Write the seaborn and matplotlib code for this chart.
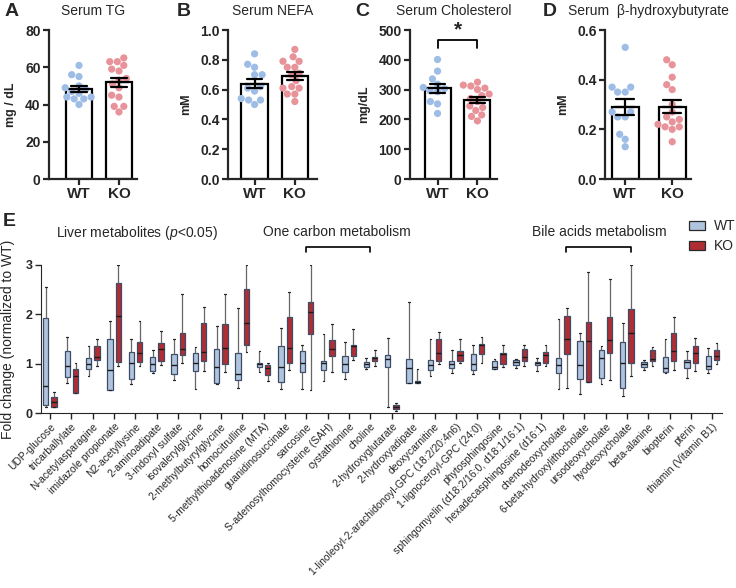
import numpy as np
import pandas as pd
import matplotlib
matplotlib.use('Agg')
import matplotlib.pyplot as plt
import matplotlib.colors as mcolors
import seaborn as sns

# ---------------- datos suero (A-D) ----------------
tg_wt = [61, 56, 55, 50, 49, 48, 47, 46, 44, 44, 43, 43, 40]
tg_ko = [65, 63, 63, 61, 59, 58, 54, 53, 51, 49, 45, 44, 39, 39, 36]
nefa_wt = [0.84, 0.77, 0.75, 0.70, 0.70, 0.62, 0.61, 0.59, 0.54, 0.53, 0.53, 0.50]
nefa_ko = [0.87, 0.82, 0.79, 0.79, 0.75, 0.75, 0.71, 0.70, 0.66, 0.62, 0.61, 0.61, 0.57, 0.57, 0.52]
chol_wt = [401, 362, 336, 318, 307, 303, 296, 293, 260, 252, 220]
chol_ko = [325, 315, 312, 305, 300, 285, 280, 270, 260, 245, 240, 230, 215, 210, 195]
bhb_wt = [0.53, 0.37, 0.37, 0.35, 0.35, 0.27, 0.27, 0.25, 0.25, 0.18, 0.16, 0.13]
bhb_ko = [0.48, 0.46, 0.41, 0.38, 0.36, 0.30, 0.27, 0.25, 0.24, 0.23, 0.22, 0.21, 0.21, 0.20, 0.15]

# ---------------- datos hígado (E) ----------------
metabolites = [
    'UDP-glucose', 'tricarballylate', 'N-acetylasparagine', 'imidazole propionate',
    'N2-acetyllysine', '2-aminoadipate', '3-indoxyl sulfate', 'isovalerylglycine',
    '2-methylbutyrylglycine', 'homocitrulline', '5-methylthioadenosine (MTA)',
    'guanidinosuccinate', 'sarcosine', 'S-adenosylhomocysteine (SAH)', 'cystathionine',
    'choline', '2-hydroxyglutarate', '2-hydroxyadipate', 'deoxycarnitine',
    '1-linoleoyl-2-arachidonoyl-GPC (18:2/20:4n6)', '1-lignoceroyl-GPC (24:0)',
    'phytosphingosine', 'sphingomyelin (d18:2/16:0, d18:1/16:1)',
    'hexadecasphingosine (d16:1)', 'chenodeoxycholate', '6-beta-hydroxylithocholate',
    'ursodeoxycholate', 'hyodeoxycholate', 'beta-alanine', 'biopterin', 'pterin',
    'thiamin (Vitamin B1)']

# min, q1, mediana, q3, max
wt_box = [
    [0.12, 0.17, 0.55, 1.93, 2.55], [0.61, 0.73, 0.96, 1.25, 1.54],
    [0.74, 0.89, 1.00, 1.11, 1.36], [0.47, 0.47, 0.87, 1.50, 1.87],
    [0.59, 0.69, 1.01, 1.23, 1.50], [0.81, 0.86, 1.00, 1.13, 1.27],
    [0.67, 0.79, 0.97, 1.19, 1.51], [0.48, 0.85, 1.01, 1.21, 1.34],
    [0.59, 0.60, 0.93, 1.30, 1.76], [0.51, 0.67, 0.79, 1.22, 2.13],
    [0.84, 0.94, 1.00, 1.02, 1.25], [0.49, 0.62, 0.93, 1.35, 1.73],
    [0.49, 0.84, 1.01, 1.25, 1.38], [0.64, 0.88, 1.01, 1.05, 1.60],
    [0.69, 0.83, 1.00, 1.15, 1.44], [0.90, 0.94, 1.00, 1.03, 1.11],
    [0.13, 0.93, 1.10, 1.17, 1.52], [0.60, 0.60, 0.91, 1.09, 2.26],
    [0.76, 0.87, 0.97, 1.07, 1.50], [0.82, 0.92, 1.00, 1.05, 1.27],
    [0.80, 0.87, 1.00, 1.19, 1.38], [0.90, 0.90, 0.94, 1.06, 1.10],
    [0.91, 0.98, 1.03, 1.08, 1.10], [0.86, 0.98, 1.01, 1.03, 1.11],
    [0.49, 0.82, 0.98, 1.11, 1.90], [0.39, 0.69, 0.98, 1.46, 1.62],
    [0.59, 0.71, 1.11, 1.27, 1.35], [0.34, 0.51, 1.02, 1.43, 1.82],
    [0.88, 0.94, 0.99, 1.04, 1.08], [0.81, 0.84, 0.92, 1.13, 1.50],
    [0.71, 0.91, 1.03, 1.08, 1.26], [0.82, 0.89, 0.96, 1.16, 1.31]]
ko_box = [
    [0.12, 0.13, 0.23, 0.32, 0.42], [0.40, 0.40, 0.75, 0.90, 1.01],
    [0.96, 1.08, 1.14, 1.36, 1.50], [0.96, 1.03, 1.97, 2.64, 3.00],
    [0.95, 1.03, 1.22, 1.44, 1.87], [0.97, 1.06, 1.30, 1.42, 1.67],
    [1.02, 1.17, 1.30, 1.62, 2.42], [0.86, 1.05, 1.23, 1.83, 2.15],
    [0.84, 1.00, 1.31, 1.80, 2.41], [1.23, 1.37, 1.82, 2.51, 3.00],
    [0.65, 0.78, 0.91, 0.98, 1.01], [0.87, 1.01, 1.31, 1.94, 2.45],
    [0.47, 1.60, 2.04, 2.26, 2.99], [0.84, 1.16, 1.30, 1.48, 1.80],
    [1.07, 1.15, 1.35, 1.38, 1.70], [0.96, 1.06, 1.11, 1.13, 1.27],
    [0.05, 0.09, 0.12, 0.16, 0.20], [0.60, 0.60, 0.63, 0.65, 0.89],
    [0.99, 1.05, 1.21, 1.50, 1.64], [1.02, 1.05, 1.17, 1.26, 1.50],
    [1.01, 1.20, 1.38, 1.39, 1.54], [0.94, 1.00, 1.19, 1.21, 1.38],
    [0.96, 1.05, 1.13, 1.30, 1.37], [0.96, 1.01, 1.17, 1.23, 1.38],
    [0.51, 1.19, 1.50, 1.97, 2.12], [0.63, 0.63, 1.45, 1.85, 2.85],
    [0.67, 1.21, 1.47, 1.94, 2.72], [0.76, 1.01, 1.63, 2.11, 3.00],
    [0.96, 1.05, 1.10, 1.28, 1.34], [0.88, 1.06, 1.26, 1.63, 1.94],
    [0.86, 1.01, 1.21, 1.36, 1.52], [1.00, 1.07, 1.15, 1.27, 1.42]]

dot_colors = {'WT': '#9dbce6', 'KO': '#e8939a'}
box_colors = {'WT': '#a9c3e6', 'KO': '#c5171f'}
edge_colors = {'WT': '#3b4c66', 'KO': '#5e0c10'}

sns.set_style('ticks')
plt.rcParams['font.family'] = ['Liberation Sans', 'DejaVu Sans']
plt.rcParams['mathtext.fontset'] = 'custom'
plt.rcParams['mathtext.it'] = 'Liberation Sans:italic'
plt.rcParams['mathtext.rm'] = 'Liberation Sans'

fig = plt.figure(figsize=(7.36, 5.88), dpi=100)
W, H = 736, 588


def px_rect(x0, y0, x1, y1):
    return [x0 / W, 1 - y1 / H, (x1 - x0) / W, (y1 - y0) / H]


def serum_panel(rect, wt, ko, title, ylabel, yticks, fmt, xlim, bar_w):
    ax = fig.add_axes(rect)
    df = pd.DataFrame({'grupo': ['WT'] * len(wt) + ['KO'] * len(ko),
                       'valor': wt + ko})
    sns.barplot(data=df, x='grupo', y='valor', errorbar=None, color='white',
                edgecolor='black', linewidth=1.6, width=bar_w, ax=ax)
    sns.swarmplot(data=df, x='grupo', y='valor', hue='grupo', palette=dot_colors,
                  size=5.2, legend=False, ax=ax, zorder=3)
    sns.pointplot(data=df, x='grupo', y='valor', errorbar='se', capsize=0.38,
                  color='black', marker='_', markersize=14, markeredgewidth=1.6,
                  linestyle='none', err_kws={'linewidth': 1.6}, ax=ax, zorder=4)
    ax.set_xlim(*xlim)
    ax.set_ylim(yticks[0], yticks[-1])
    ax.set_yticks(yticks)
    ax.set_yticklabels([fmt.format(t) for t in yticks], fontweight='bold', fontsize=10)
    ax.set_xticks([0, 1])
    ax.set_xticklabels(['WT', 'KO'], fontweight='bold', fontsize=11)
    ax.set_xlabel('')
    ax.set_ylabel(ylabel, fontweight='bold', fontsize=9, labelpad=6)
    for s in ['top', 'right']:
        ax.spines[s].set_visible(False)
    for s in ['left', 'bottom']:
        ax.spines[s].set_linewidth(1.6)
    ax.tick_params(width=1.6, length=4, pad=2)
    cx = rect[0] + rect[2] / 2
    fig.text(cx, 1 - 11 / H, title, ha='center', va='center', fontsize=10)
    return ax


axA = serum_panel(px_rect(49, 30, 137, 179), tg_wt, tg_ko, 'Serum TG', 'mg / dL',
                  [0, 20, 40, 60, 80], '{:g}', (-0.75, 1.45), 0.65)
axB = serum_panel(px_rect(228, 30, 317, 179), nefa_wt, nefa_ko, 'Serum NEFA', 'mM',
                  [0, 0.2, 0.4, 0.6, 0.8, 1.0], '{:.1f}', (-0.66, 1.55), 0.65)
axC = serum_panel(px_rect(410, 30, 497, 179), chol_wt, chol_ko, 'Serum Cholesterol', 'mg/dL',
                  [0, 100, 200, 300, 400, 500], '{:g}', (-0.69, 1.49), 0.65)
axD = serum_panel(px_rect(605, 30, 691, 179), bhb_wt, bhb_ko, 'Serum  β-hydroxybutyrate', 'mM',
                  [0, 0.2, 0.4, 0.6], '{:.1f}', (-0.43, 1.40), 0.57)

# corchete de significancia
axC.plot([0, 0, 1, 1], [438, 465, 465, 438], color='black', lw=1.3, clip_on=False)
axC.text(0.5, 470, '*', ha='center', va='bottom', fontsize=15, fontweight='bold')

for letter, x, y in [('A', 5, 12), ('B', 177, 12), ('C', 355, 12), ('D', 543, 12), ('E', 3, 221)]:
    fig.text(x / W, 1 - y / H, letter, fontsize=14, fontweight='bold', va='center')

# ---------------- panel E ----------------
rows = []
for name, w, k in zip(metabolites, wt_box, ko_box):
    for v in w:
        rows.append((name, 'WT', v))
    for v in k:
        rows.append((name, 'KO', v))
df_e = pd.DataFrame(rows, columns=['metabolito', 'genotipo', 'fc'])

axE = fig.add_axes(px_rect(41, 265, 722, 413))
sns.boxplot(data=df_e, x='metabolito', y='fc', hue='genotipo', order=metabolites,
            hue_order=['WT', 'KO'], palette=box_colors, whis=(0, 100), width=0.78,
            gap=0.36, linewidth=0.9, linecolor='#2a2a2a', fliersize=0,
            whiskerprops={'color': '#666666', 'linewidth': 0.9},
            capprops={'color': '#222222', 'linewidth': 0.9},
            medianprops={'color': '#1a1a1a', 'linewidth': 1.0},
            capwidths=0.08, ax=axE)

# bordes de caja por genotipo
red = np.array(mcolors.to_rgb(box_colors['KO']))
for p in axE.patches:
    fc = np.array(p.get_facecolor()[:3])
    p.set_edgecolor(edge_colors['KO'] if np.abs(fc - red).sum() < 0.1 else edge_colors['WT'])

axE.set_xlim(-0.42, 31.45)
axE.set_ylim(0, 3)
axE.set_yticks([0, 1, 2, 3])
axE.set_yticklabels(['0', '1', '2', '3'], fontweight='bold', fontsize=9)
axE.set_xticks(range(len(metabolites)))
axE.set_xticklabels(metabolites, rotation=45, ha='right', rotation_mode='anchor', fontsize=7.5)
axE.set_xlabel('')
axE.set_ylabel('Fold change (normalized to WT)', fontsize=10, labelpad=8)
sns.despine(ax=axE)
axE.tick_params(axis='both', length=4, width=1, pad=2)

axE.text(4.07, 3.65, 'Liver metabolites ($\\it{p}$<0.05)', ha='center', va='center', fontsize=10)
axE.text(13.45, 3.66, 'One carbon metabolism', ha='center', va='center', fontsize=10)
axE.text(25.7, 3.66, 'Bile acids metabolism', ha='center', va='center', fontsize=10)
for x0, x1 in [(11.98, 14.97), (24.15, 27.2)]:
    axE.plot([x0, x0, x1, x1], [3.26, 3.37, 3.37, 3.26], color='black', lw=1.2, clip_on=False)

sns.move_legend(axE, 'upper left', bbox_to_anchor=(0.952, 1.31), frameon=False,
                title=None, fontsize=10, handlelength=1.15, handleheight=0.6,
                handletextpad=0.6, borderpad=0, borderaxespad=0, labelspacing=0.45)

fig.savefig('out.png', dpi=100)
